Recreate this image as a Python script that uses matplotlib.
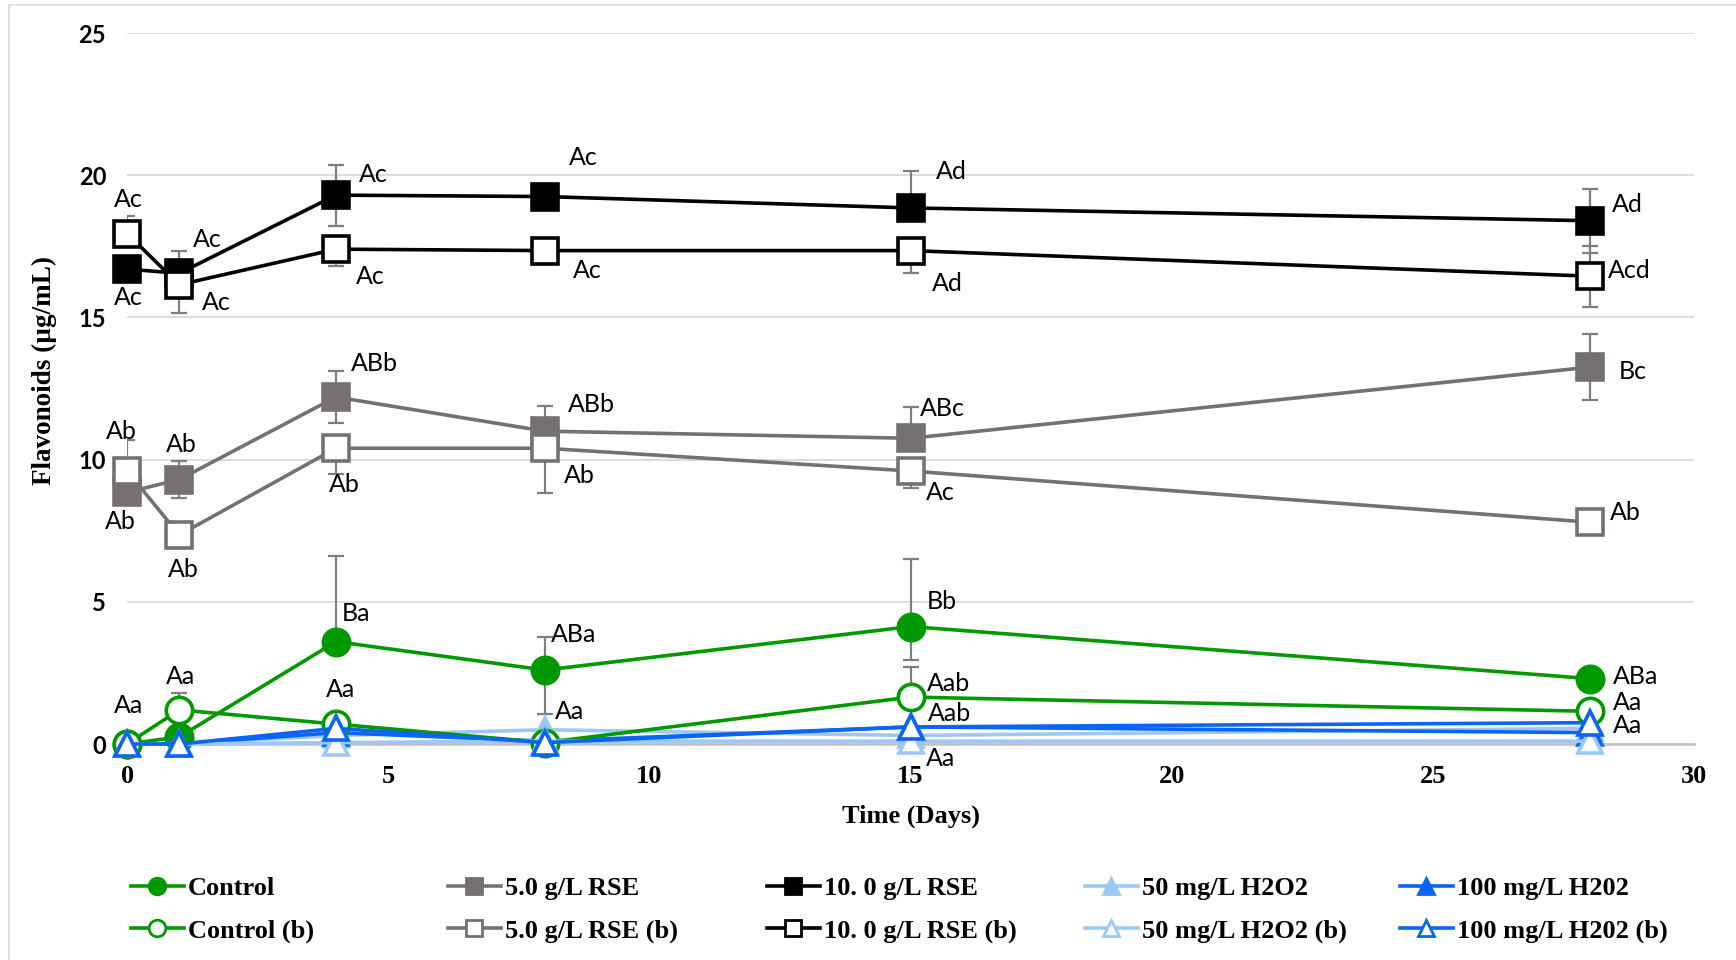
import matplotlib
matplotlib.use("Agg")
import matplotlib.pyplot as plt
from matplotlib.lines import Line2D
from matplotlib.patches import Rectangle

# ---------------- data ----------------
days = [0, 1, 4, 8, 15, 28]

control = [0.0, 0.25, 3.6, 2.6, 4.13, 2.3]
control_lo = [0, 0, 0, 1.55, 1.18, 0]
control_hi = [0, 0, 3.0, 1.15, 2.37, 0]
control_lbl = ["Aa", "", "Ba", "ABa", "Bb", "ABa"]

control_b = [0.0, 1.2, 0.7, 0.05, 1.65, 1.15]
control_b_lo = [0, 0, 0, 0, 0, 0]
control_b_hi = [0, 0.6, 0, 0, 1.05, 0]
control_b_lbl = ["", "Aa", "Aa", "Aa", "Aab", "Aa"]

rse5 = [8.85, 9.3, 12.2, 11.0, 10.75, 13.25]
rse5_lo = [0, 0.65, 0.9, 0, 0, 1.15]
rse5_hi = [0, 0.65, 0.9, 0.88, 1.1, 1.15]
rse5_lbl = ["Ab", "Ab", "ABb", "ABb", "ABc", "Bc"]

rse5_b = [9.6, 7.35, 10.4, 10.4, 9.6, 7.8]
rse5_b_lo = [0, 0, 0.9, 1.57, 0.6, 0]
rse5_b_hi = [1.1, 0, 0, 0, 0, 0]
rse5_b_lbl = ["Ab", "Ab", "Ab", "Ab", "Ac", "Ab"]

rse10 = [16.7, 16.55, 19.3, 19.25, 18.85, 18.4]
rse10_lo = [0, 0.8, 1.07, 0, 0, 1.13]
rse10_hi = [0, 0.8, 1.07, 0, 1.3, 1.1]
rse10_lbl = ["Ac", "Ac", "Ac", "Ac", "Ad", "Ad"]

rse10_b = [17.95, 16.15, 17.4, 17.35, 17.35, 16.45]
rse10_b_lo = [0, 1.0, 0.6, 0, 0.8, 1.07]
rse10_b_hi = [0.6, 0, 0, 0, 0, 1.07]
rse10_b_lbl = ["Ac", "Ac", "Ac", "Ac", "Ad", "Acd"]

h2o2_50 = [0.0, 0.0, 0.3, 0.5, 0.3, 0.55]
h2o2_50_lbl = ["", "", "", "", "", ""]
h2o2_50_b = [0.0, 0.0, 0.05, 0.1, 0.1, 0.1]
h2o2_50_b_lbl = ["", "", "", "", "Aa", ""]

h2o2_100 = [0.0, 0.0, 0.4, 0.1, 0.6, 0.4]
h2o2_100_lbl = ["", "", "", "", "", ""]
h2o2_100_b = [0.0, 0.0, 0.55, 0.05, 0.6, 0.75]
h2o2_100_b_lbl = ["", "", "", "", "Aab", "Aa"]

legend_labels = ["Control", "5.0 g/L RSE", "10. 0 g/L RSE", "50 mg/L H2O2", "100 mg/L H202",
                 "Control (b)", "5.0 g/L RSE (b)", "10. 0 g/L RSE (b)", "50 mg/L H2O2 (b)",
                 "100 mg/L H202 (b)"]

y_ticks = [0, 5, 10, 15, 20, 25]
x_ticks = [0, 5, 10, 15, 20, 25, 30]

# ---------------- style ----------------
GREEN = "#009A00"
GREY = "#767171"
BLACK = "#000000"
LBLUE = "#9DC8F5"
DBLUE = "#0A64F5"
ERRC = "#7F7F7F"

# label offsets (in reference display px, x right / y up)
off_control = [(1, 35), None, (18, 25), (26, 32), (28, 23), (42, 2)]
off_control_b = [None, (1, 30), (4, 31), (22, 28), (34, 12), (34, 8)]
off_rse5 = [(-6, -26), (2, 32), (35, 30), (42, 24), (29, 27), (39, -4)]
off_rse5_b = [(-5, 36), (4, -31), (8, -33), (31, -25), (27, -19), (32, 9)]
off_rse10 = [(1, -26), (25, 31), (34, 19), (35, 35), (37, 33), (34, 15)]
off_rse10_b = [(1, 31), (33, -16), (31, -25), (38, -18), (33, -30), (36, 5)]
off_h50 = [None] * 6
off_h50_b = [None, None, None, None, (27, -16), None]
off_h100 = [None] * 6
off_h100_b = [None, None, None, None, (35, 12), (34, -3)]

PX2PT = 1.107 * 72 / 100.0

fig = plt.figure(figsize=(17.36, 9.60), dpi=100)
ax = fig.add_axes([0.0732, 0.225, 0.9026, 0.7406])

series = [
    (control, control_lo, control_hi, GREEN, "o", True, control_lbl, off_control, legend_labels[0]),
    (rse5, rse5_lo, rse5_hi, GREY, "s", True, rse5_lbl, off_rse5, legend_labels[1]),
    (rse10, rse10_lo, rse10_hi, BLACK, "s", True, rse10_lbl, off_rse10, legend_labels[2]),
    (h2o2_50, None, None, LBLUE, "^", True, h2o2_50_lbl, off_h50, legend_labels[3]),
    (h2o2_100, None, None, DBLUE, "^", True, h2o2_100_lbl, off_h100, legend_labels[4]),
    (control_b, control_b_lo, control_b_hi, GREEN, "o", False, control_b_lbl, off_control_b, legend_labels[5]),
    (rse5_b, rse5_b_lo, rse5_b_hi, GREY, "s", False, rse5_b_lbl, off_rse5_b, legend_labels[6]),
    (rse10_b, rse10_b_lo, rse10_b_hi, BLACK, "s", False, rse10_b_lbl, off_rse10_b, legend_labels[7]),
    (h2o2_50_b, None, None, LBLUE, "^", False, h2o2_50_b_lbl, off_h50_b, legend_labels[8]),
    (h2o2_100_b, None, None, DBLUE, "^", False, h2o2_100_b_lbl, off_h100_b, legend_labels[9]),
]

handles = []
for i, (vals, lo, hi, col, mk, filled, lbls, offs, leg) in enumerate(series):
    if lo is not None:
        ax.errorbar(days, vals, yerr=[lo, hi], fmt="none", ecolor=ERRC, elinewidth=1.6,
                    capsize=6, capthick=1.6, zorder=2)
    ms = 19 if mk != "^" else 17
    face = col if filled else "white"
    ax.plot(days, vals, color=col, lw=2.6, marker=mk, ms=ms, mfc=face, mec=col,
            mew=2.6, zorder=3 + i * 0.1, clip_on=False)
    handles.append(Line2D([0], [0], color=col, lw=2.6, marker=mk, ms=12 if mk != "^" else 11,
                          mfc=face, mec=col, mew=2.0))
    for d, v, t, o in zip(days, vals, lbls, offs):
        if t and o is not None:
            ax.annotate(t, (d, v), xytext=(o[0] * PX2PT, o[1] * PX2PT), textcoords="offset points",
                        ha="center", va="center", fontsize=18, family="Lato", color="black",
                        zorder=10)

ax.set_xlim(0, 30)
ax.set_ylim(0, 25)
ax.set_yticks(y_ticks)
ax.set_xticks(x_ticks)
ax.set_yticklabels([str(t) for t in y_ticks], fontsize=17, fontweight="bold", family="Lato")
ax.set_xticklabels([str(t) for t in x_ticks], fontsize=19, fontweight="bold",
                   family="Liberation Serif")
ax.tick_params(axis="y", length=0, pad=15)
ax.tick_params(axis="x", length=0, pad=15)
for s in ["left", "right", "top"]:
    ax.spines[s].set_visible(False)
ax.spines["bottom"].set_color("#BFBFBF")
ax.spines["bottom"].set_linewidth(1.8)
ax.spines["bottom"].set_zorder(1)
ax.yaxis.grid(True, color="#D9D9D9", lw=1.3)
ax.set_axisbelow(True)

ax.set_xlabel("Time (Days)", fontsize=19, fontweight="bold", family="Liberation Serif")
ax.xaxis.set_label_coords(0.5, -0.085)
ax.set_ylabel("Flavonoids (µg/mL)", fontsize=19.5, fontweight="bold", family="Liberation Serif")
ax.yaxis.set_label_coords(-0.045, 0.525)

# legend: 5 columns x 2 rows
col_x = [131, 448, 767, 1085, 1400]
for c in range(5):
    fig.legend([handles[c], handles[c + 5]], [legend_labels[c], legend_labels[c + 5]],
               loc="upper left", bbox_to_anchor=(col_x[c] / 1736.0, 1 - 876.5 / 960.0),
               frameon=False, borderpad=0, borderaxespad=0, handlelength=2.0,
               handletextpad=0.15, labelspacing=0.72,
               prop={"family": "Liberation Serif", "weight": "bold", "size": 19})

fig.patches.append(Rectangle((9 / 1736.0, -0.01), 1.0, 1 - 5 / 960.0 + 0.01,
                             transform=fig.transFigure, fill=False, edgecolor="#D9D9D9", lw=1.2))

fig.savefig("out.png", dpi=100)
